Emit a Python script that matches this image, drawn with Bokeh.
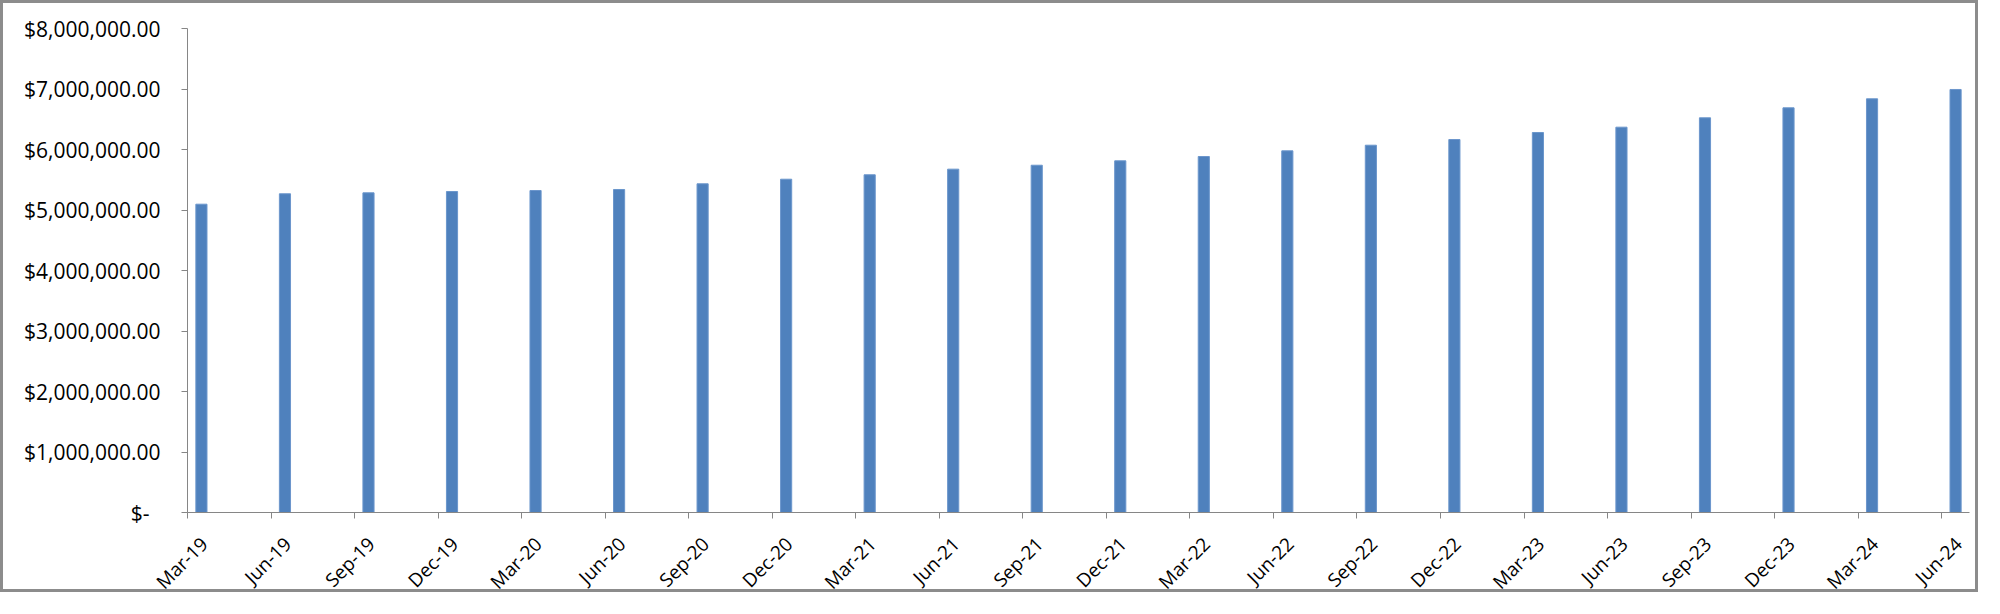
import math
from bokeh.plotting import figure
from bokeh.models import FixedTicker, NumeralTickFormatter, Range1d, LinearAxis
from bokeh.embed import file_html
from bokeh.resources import INLINE

# ---- data ----
quarters = ["Mar-19", "Jun-19", "Sep-19", "Dec-19", "Mar-20", "Jun-20", "Sep-20", "Dec-20",
            "Mar-21", "Jun-21", "Sep-21", "Dec-21", "Mar-22", "Jun-22", "Sep-22", "Dec-22",
            "Mar-23", "Jun-23", "Sep-23", "Dec-23", "Mar-24", "Jun-24"]
values = [5096000, 5268000, 5284000, 5306000, 5322000, 5339000, 5433000, 5509000,
          5582000, 5675000, 5740000, 5813000, 5884000, 5978000, 6071000, 6165000,
          6281000, 6369000, 6524000, 6689000, 6838000, 6992000]
y_ticks = [0, 1000000, 2000000, 3000000, 4000000, 5000000, 6000000, 7000000, 8000000]
y_max = 8000000

# month index of each quarter (monthly date axis, Mar-19 = 0)
month_idx = [3 * i for i in range(len(quarters))]
x_max = month_idx[-1] + 1
bar_x = [m + 0.5 for m in month_idx]
label_shift = 0.6    # rotated label anchor offset, in months
label_pos = [m + label_shift for m in month_idx]

FONT = "Open Sans"
AXIS_GRAY = "#868686"

# ---- layout (canvas pixels); the plot area fills the canvas, axes sit at fixed spots
CANVAS_W, CANVAS_H = 1978, 592
AX_LEFT, AX_RIGHT = 184, 1966      # x = 0 and x = x_max
AX_TOP, AX_ZERO = 25, 509          # y = y_max and y = 0
ppx = (AX_RIGHT - AX_LEFT) / x_max
ppy = (AX_ZERO - AX_TOP) / y_max
x_range = Range1d(-AX_LEFT / ppx, x_max + (CANVAS_W - AX_RIGHT) / ppx)
y_range = Range1d(-(CANVAS_H - AX_ZERO) / ppy, y_max + AX_TOP / ppy)

p = figure(width=CANVAS_W, height=CANVAS_H, output_backend="svg", toolbar_location=None,
           x_range=x_range, y_range=y_range,
           min_border_left=0, min_border_right=0, min_border_top=0, min_border_bottom=0,
           x_axis_location=None, y_axis_location=None)
p.styles = {"border": "3px solid #8c8c8c"}

p.vbar(x=bar_x, top=values, width=0.4, bottom=0, fill_color="#4F81BD",
       line_color="#6b96cc", line_width=1)

p.outline_line_color = None
p.xgrid.visible = False
p.ygrid.visible = False

# x axis: line + ticks at y = 0
xa = LinearAxis(ticker=FixedTicker(ticks=month_idx), fixed_location=0, bounds=(0, x_max))
xa.major_label_overrides = {m: "" for m in month_idx}
xa.major_label_text_font_size = "1px"
xa.major_label_standoff = 0
xa.axis_line_color = AXIS_GRAY
xa.major_tick_line_color = AXIS_GRAY
xa.major_tick_out = 6
xa.major_tick_in = 0
xa.minor_tick_line_color = None
p.add_layout(xa, "below")

# x axis labels (rotated)
xl = LinearAxis(ticker=FixedTicker(ticks=label_pos), fixed_location=0)
xl.major_label_overrides = {lp: q for lp, q in zip(label_pos, quarters)}
xl.major_label_orientation = math.pi / 4
xl.axis_line_color = None
xl.major_tick_line_color = None
xl.minor_tick_line_color = None
xl.major_tick_out = 0
xl.major_tick_in = 0
xl.major_label_text_font = FONT
xl.major_label_text_font_size = "19px"
xl.major_label_text_color = "#000000"
xl.major_label_standoff = 28
p.add_layout(xl, "below")

# y axis at x = 0
ya = LinearAxis(ticker=FixedTicker(ticks=y_ticks), fixed_location=0, bounds=(0, y_max))
ya.formatter = NumeralTickFormatter(format="$0,0.00")
ya.major_label_overrides = {0: "$-\u00a0\u00a0"}
ya.axis_line_color = AXIS_GRAY
ya.major_tick_line_color = AXIS_GRAY
ya.major_tick_out = 6
ya.major_tick_in = 0
ya.minor_tick_line_color = None
ya.major_label_text_font = FONT
ya.major_label_text_font_size = "21px"
ya.major_label_text_color = "#000000"
ya.major_label_standoff = 21
p.add_layout(ya, "left")

open("out.html", "w").write(file_html(p, INLINE))
